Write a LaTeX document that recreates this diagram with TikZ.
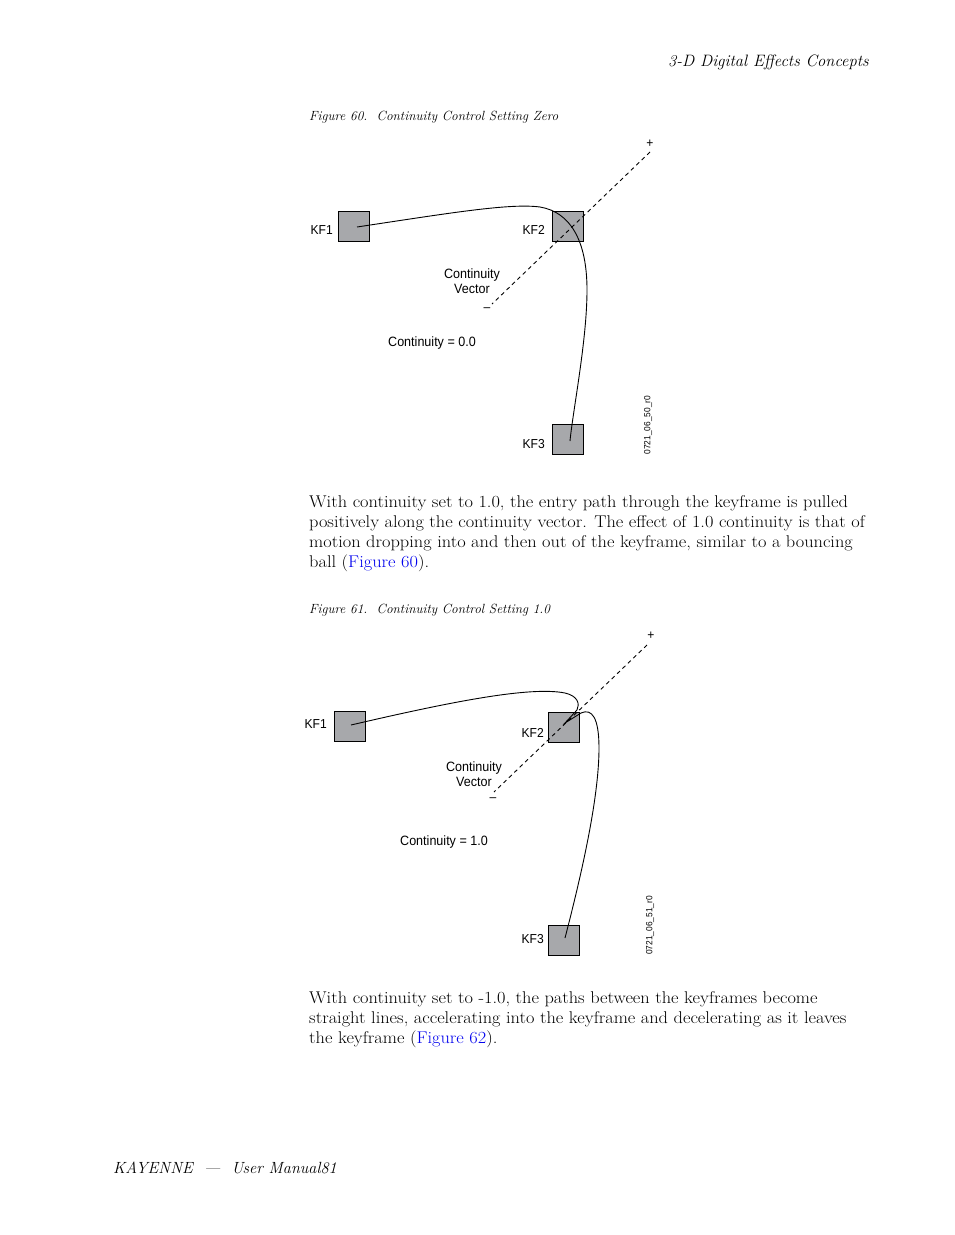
\documentclass[tikz,border=0pt]{standalone}
\usepackage{fontspec}
\newfontfamily\lab[FakeStretch=0.93]{Liberation Sans}
\definecolor{boxgray}{RGB}{167,168,171}
\definecolor{linkblue}{RGB}{0,0,238}
\newcommand{\bodyline}[1]{\scalebox{1.08}[1]{#1}}
\tikzset{
  kf/.style={draw=black, line width=0.9pt, fill=boxgray, minimum width=31pt, minimum height=30pt, inner sep=0pt},
  kflab/.style={font=\lab\fontsize{13}{15}\selectfont, inner sep=0pt, anchor=east},
  vlab/.style={font=\lab\fontsize{13.5}{15}\selectfont, inner sep=0pt, align=center},
  clab/.style={font=\lab\fontsize{13.5}{15}\selectfont, inner sep=0pt, anchor=west},
  signlab/.style={font=\lab\fontsize{13}{14}\selectfont, inner sep=0pt},
  idlab/.style={font=\lab\fontsize{9}{10}\selectfont, inner sep=0pt, rotate=90},
  kpath/.style={draw=black, line width=0.9pt},
  vecline/.style={draw=black, line width=0.9pt, dash pattern=on 4pt off 3.5pt},
  bodytext/.style={font=\fontsize{17}{20}\selectfont, inner sep=0pt, anchor=base west},
  figcap/.style={font=\itshape\fontsize{13.3}{15}\selectfont, inner sep=0pt, anchor=base west},
}
\begin{document}
\begin{tikzpicture}[x=1pt, y=-1pt]
\useasboundingbox[fill=white] (0,0) rectangle (954,1235);

% header / footer
\node[font=\itshape\fontsize{16.5}{20}\selectfont, inner sep=0pt, anchor=base east] (hdr) at (869,66) {3-D Digital Effects Concepts};
\node[font=\itshape\fontsize{16.2}{20}\selectfont, inner sep=0pt, anchor=base west] (ftr) at (113,1173) {KAYENNE\ \ ---\ \ User Manual81};

% ---------------- Figure 60 ----------------
\node[figcap] (cap60) at (309,120) {Figure 60.\ \ Continuity Control Setting Zero};

\node[kf] (a1) at (354,226) {};
\node[kf] (a2) at (567.5,226) {};
\node[kf] (a3) at (567.5,439.5) {};
\node[kflab] (a1l) at (333,230) {KF1};
\node[kflab] (a2l) at (545,230) {KF2};
\node[kflab] (a3l) at (545,444) {KF3};

\node[signlab] (ap) at (650,144) {+};
\node[signlab] (am) at (487,310) {–};
\coordinate (apv) at (650,152);
\coordinate (amv) at (492,304);
\draw[vecline] (apv) -- (amv);

\node[vlab] (avl) at (472,281.5) {Continuity\\Vector};
\node[clab] (acl) at (388,343) {Continuity = 0.0};
\node[idlab] (aid) at (648,425) {0721\_06\_50\_r0};

\coordinate (as) at (357,227);
\coordinate (ae) at (570,441);
\draw[kpath] (as) .. controls (450,213) and (510,203) .. (540,207)
  .. controls (570,212) and (587,240) .. (587,290)
  .. controls (587,340) and (573,410) .. (ae);

% body paragraph 1
\node[bodytext] (p1a) at (309,507) {\bodyline{With continuity set to 1.0, the entry path through the keyframe is pulled}};
\node[bodytext] (p1b) at (309,527) {\bodyline{positively along the continuity vector. The effect of 1.0 continuity is that of}};
\node[bodytext] (p1c) at (309,547) {\bodyline{motion dropping into and then out of the keyframe, similar to a bouncing}};
\node[bodytext] (p1d) at (309,567) {\bodyline{ball (\textcolor{linkblue}{Figure 60}).}};

% ---------------- Figure 61 ----------------
\node[figcap] (cap61) at (309,613) {Figure 61.\ \ Continuity Control Setting 1.0};

\node[kf] (b1) at (349.5,726.5) {};
\node[kf] (b2) at (563.5,727) {};
\node[kf] (b3) at (563.5,940) {};
\node[kflab] (b1l) at (327,724) {KF1};
\node[kflab] (b2l) at (544,733) {KF2};
\node[kflab] (b3l) at (544,939) {KF3};

\node[signlab] (bp) at (651,636) {+};
\node[signlab] (bm) at (493,800) {–};
\coordinate (bpv) at (647,645);
\coordinate (bmv) at (494,792);
\draw[vecline] (bpv) -- (bmv);

\node[vlab] (bvl) at (474,774.5) {Continuity\\Vector};
\node[clab] (bcl) at (400,842) {Continuity = 1.0};
\node[idlab] (bid) at (650,925.5) {0721\_06\_51\_r0};

\coordinate (bs) at (351,725);
\coordinate (be) at (565,938);
\draw[kpath] (bs) .. controls (450,702) and (530,686) .. (565,693)
  .. controls (578,696) and (580,704) .. (577,710)
  -- (565,723) -- (581,713)
  .. controls (592,708) and (599,718) .. (599,748)
  .. controls (599,800) and (580,880) .. (be);

% body paragraph 2
\node[bodytext] (p2a) at (309,1003) {\bodyline{With continuity set to -1.0, the paths between the keyframes become}};
\node[bodytext] (p2b) at (309,1023) {\bodyline{straight lines, accelerating into the keyframe and decelerating as it leaves}};
\node[bodytext] (p2c) at (309,1043) {\bodyline{the keyframe (\textcolor{linkblue}{Figure 62}).}};
\end{tikzpicture}
\end{document}
